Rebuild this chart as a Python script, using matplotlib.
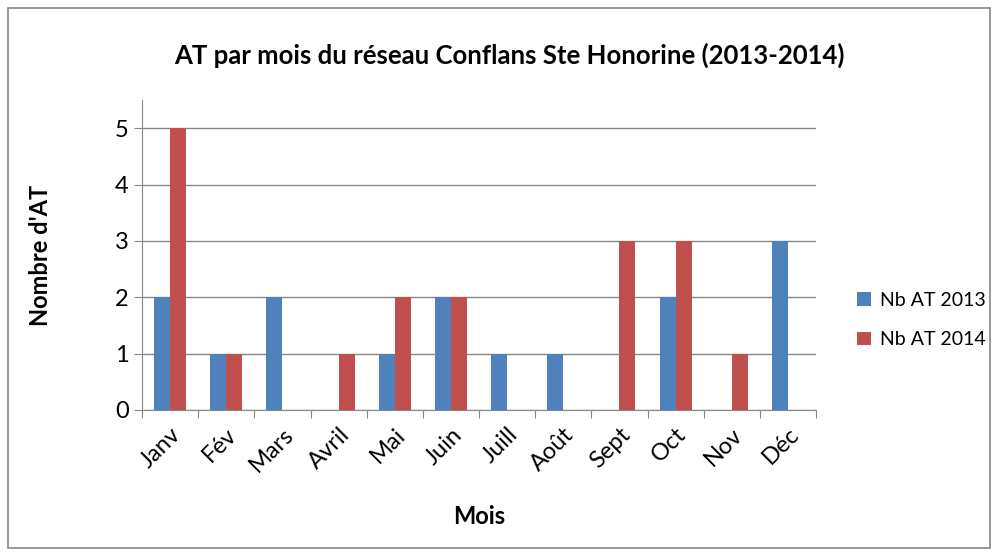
import matplotlib.pyplot as plt
import numpy as np
from matplotlib.patches import Rectangle

mois = ["Janv", "Fév", "Mars", "Avril", "Mai", "Juin", "Juill", "Août", "Sept", "Oct", "Nov", "Déc"]
nb_2013 = [2, 1, 2, 0, 1, 2, 1, 1, 0, 2, 0, 3]
nb_2014 = [5, 1, 0, 1, 2, 2, 0, 0, 3, 3, 1, 0]

plt.rcParams['font.family'] = ['Lato', 'DejaVu Sans']

fig = plt.figure(figsize=(9.97, 5.56), dpi=100)
ax = fig.add_axes([142 / 997, (556 - 410) / 556, (816 - 142) / 997, (410 - 100) / 556])

# cadre du graphique
fig.patches.append(Rectangle((8 / 997, 8 / 556), 982 / 997, 540 / 556, transform=fig.transFigure,
                             fill=False, edgecolor="#888888", linewidth=1.2))

x = np.arange(len(mois))
w = 0.285
ax.bar(x - w / 2, nb_2013, w, color="#4F81BD", label="Nb AT 2013", zorder=3)
ax.bar(x + w / 2, nb_2014, w, color="#C0504D", label="Nb AT 2014", zorder=3)

ax.set_xlim(-0.5, len(mois) - 0.5)
ax.set_ylim(0, 5.5)
ax.set_yticks(range(6))
ax.yaxis.grid(True, color="#888888", linewidth=1, zorder=0)
for s in ["top", "right"]:
    ax.spines[s].set_visible(False)
for s in ["left", "bottom"]:
    ax.spines[s].set_color("#888888")

ax.set_xticks(np.arange(-0.5, len(mois), 1))
ax.set_xticklabels([])
ax.tick_params(axis="x", which="major", length=6, color="#888888")
ax.set_xticks(x, minor=True)
ax.set_xticklabels(mois, minor=True, rotation=45, ha="right", rotation_mode="anchor", fontsize=17)
ax.tick_params(axis="x", which="minor", length=0, pad=10)
ax.tick_params(axis="y", length=6, color="#888888", labelsize=17)

ax.set_title("AT par mois du réseau Conflans Ste Honorine (2013-2014)", fontsize=18.5,
             fontweight="bold", pad=26, x=0.545)
ax.set_xlabel("Mois", fontsize=17, fontweight="bold", labelpad=21)
ax.set_ylabel("Nombre d'AT", fontsize=17, fontweight="bold", labelpad=45)

ax.legend(loc="center left", bbox_to_anchor=(1.035, 0.29), frameon=False, fontsize=14,
          handlelength=0.7, handleheight=0.7, handletextpad=0.5, labelspacing=1.15)

plt.savefig("out.png", dpi=100)
